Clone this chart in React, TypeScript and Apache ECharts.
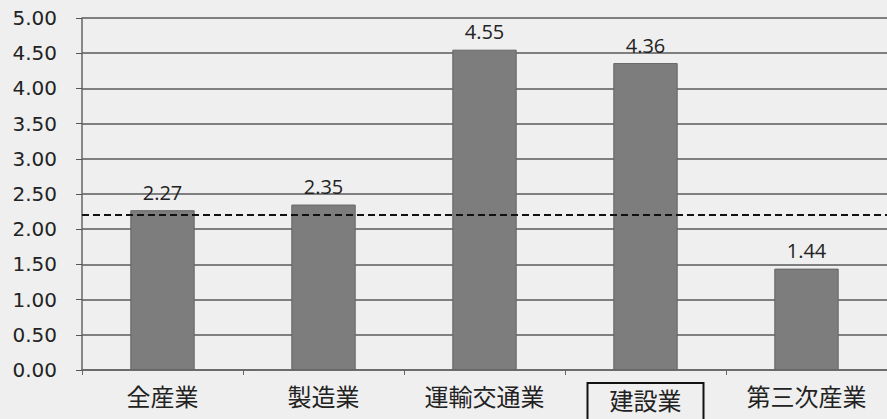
import React, { useEffect, useRef } from "react";
import * as echarts from "echarts";

const categories = ["全産業", "製造業", "運輸交通業", "建設業", "第三次産業"];
const values = [2.27, 2.35, 4.55, 4.36, 1.44];
const referenceLine = 2.2;
const highlighted = "建設業";

export default function App() {
  const ref = useRef<HTMLDivElement>(null);
  useEffect(() => {
    if (!ref.current) return;
    const chart = echarts.init(ref.current, null, { renderer: "svg" });
    chart.setOption({
      animation: false,
      backgroundColor: "#efefef",
      grid: { left: 82, right: 0, top: 18, bottom: 49, containLabel: false, outerBoundsMode: "none" },
      xAxis: {
        type: "category",
        data: categories,
        axisLine: { lineStyle: { color: "#666", width: 1.5 } },
        axisTick: { show: true, length: 5, lineStyle: { color: "#666" } },
        axisLabel: {
          interval: 0,
          hideOverlap: false,
          margin: 13,
          fontFamily: "Noto Sans CJK JP",
          fontSize: 24,
          color: "#222",
          formatter: (v: string) => (v === highlighted ? `{box|${v}}` : v),
          rich: {
            box: {
              fontFamily: "Noto Sans CJK JP",
              fontSize: 24,
              color: "#222",
              borderColor: "#111",
              borderWidth: 2,
              padding: [4, 22, 14, 22],
            },
          },
        },
      },
      yAxis: {
        type: "value",
        min: 0,
        max: 5,
        interval: 0.5,
        axisLine: { show: true, lineStyle: { color: "#666", width: 1.5 } },
        axisTick: { show: true, length: 6, lineStyle: { color: "#555" } },
        splitLine: { lineStyle: { color: "#5a5a5a", width: 1.5 } },
        axisLabel: {
          margin: 25,
          fontFamily: "DejaVu Sans",
          fontSize: 20,
          color: "#222",
          formatter: (v: number) => v.toFixed(2),
        },
      },
      series: [
        {
          type: "bar",
          data: values,
          barCategoryGap: "60%",
          itemStyle: { color: "#7d7d7d", borderColor: "#666", borderWidth: 1 },
          label: {
            show: true,
            position: "top",
            distance: 8,
            fontFamily: "Open Sans",
            fontSize: 20,
            color: "#222",
            formatter: (p: any) => p.value.toFixed(2),
          },
          markLine: {
            symbol: "none",
            silent: true,
            label: { show: false },
            lineStyle: { color: "#111", type: [7, 4], width: 2 },
            data: [{ yAxis: referenceLine }],
          },
        },
      ],
    });
    return () => chart.dispose();
  }, []);
  return (
    <div
      ref={ref}
      style={{ position: "fixed", left: 0, top: 0, width: 887, height: 419 }}
    />
  );
}
